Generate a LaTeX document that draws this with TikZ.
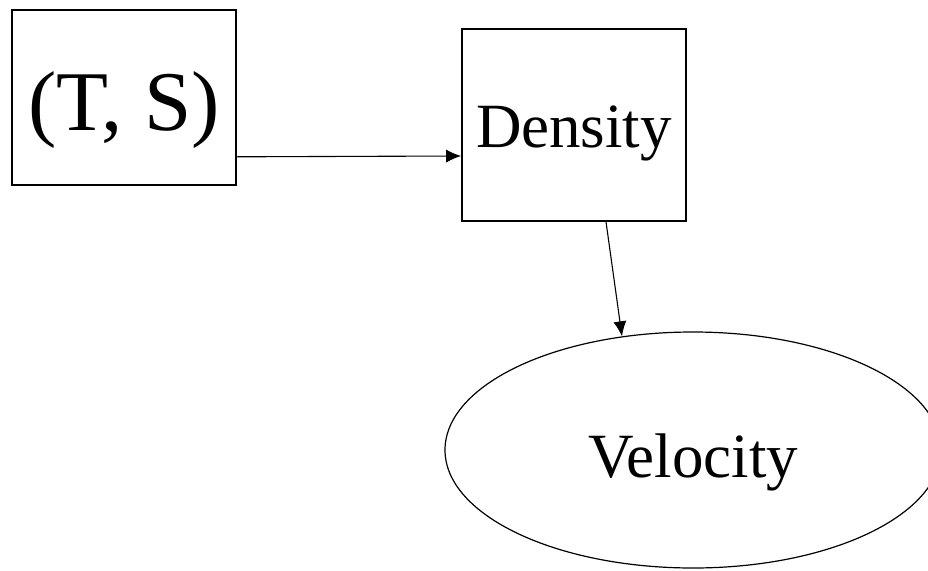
\documentclass[tikz,border=0pt]{standalone}
\usepackage{fontspec}
\setmainfont{Liberation Serif}
\usetikzlibrary{arrows.meta,shapes.geometric}
\tikzset{varbox/.style={rectangle,draw=black,line width=1.6pt,inner sep=0pt,text centered,text depth=0pt},varoval/.style={ellipse,draw=black,line width=1.2pt,inner sep=0pt,text depth=0pt,minimum width=496pt,minimum height=236pt},flowarrow/.style={-{Latex[length=15pt,width=13pt]},line width=1.1pt}}

\begin{document}
\begin{tikzpicture}[x=1pt,y=-1pt]
\useasboundingbox (0,0) rectangle (928,570);
%boxes
\node (ts) at (124,97.5)[varbox,text height=65pt,minimum width=224pt,minimum height=175pt]{\fontsize{85}{90}\selectfont (T, S)};
\node (dens) at (574,125)[varbox,text height=44pt,minimum width=224pt,minimum height=192pt]{\fontsize{63}{68}\selectfont Density};
%velocity
\node (vel) at (693,450)[varoval,text height=54pt]{\fontsize{63}{68}\selectfont Velocity};
%arrows
\draw[flowarrow] ([yshift=29pt]ts.south east) -- ([yshift=-31pt]dens.west);
\draw[flowarrow] ([xshift=32pt]dens.south) -- (vel.122);
\end{tikzpicture}
\end{document}
